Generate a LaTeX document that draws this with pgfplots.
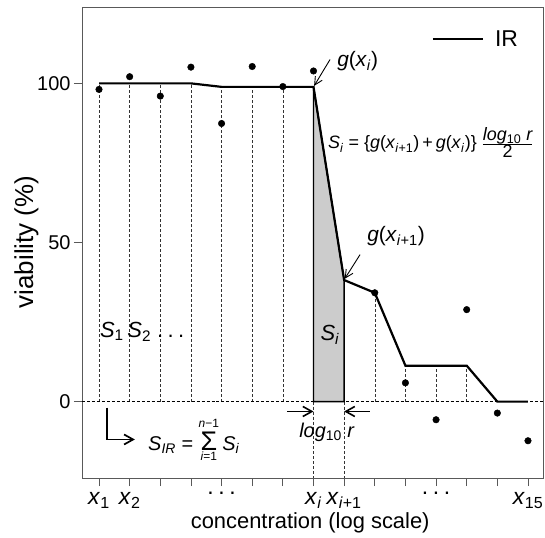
\documentclass[border=0pt]{standalone}
\usepackage{fontspec}
\setmainfont{Liberation Sans}
\usepackage{pgfplots}
\pgfplotsset{compat=1.18}
\usetikzlibrary{arrows.meta}
\newcommand{\sub}[1]{\textsubscript{#1}}
\newcommand{\cdts}{.\hspace{0.2em}.\hspace{0.2em}.}
\begin{document}
\begin{tikzpicture}
\begin{axis}[
  width=461bp, height=471bp, scale only axis,
  xmin=0.445, xmax=15.49, ymin=-24, ymax=124,
  axis line style={black!65, line width=0.8bp},
  xtick={1,...,15}, ytick={0,50,100},
  xtick pos=bottom, ytick pos=left, tick align=outside,
  major tick length=8bp,
  tick style={black!65, line width=0.8bp},
  /pgf/number format/assume math mode=true,
  yticklabel style={font=\fontsize{20}{22}\selectfont},
  xticklabels={\textit{x}\sub{1}, \textit{x}\sub{2}, {}, {}, {\raisebox{0.12em}{\cdts}}, {}, {}, \textit{x}\sub{\textit{i}}, \textit{x}\sub{\textit{i}+1}, {}, {}, {\raisebox{0.12em}{\cdts}}, {}, {}, \textit{x}\sub{15}},
  xticklabel style={font=\fontsize{23}{25}\selectfont, yshift=-3bp},
  xlabel={concentration (log scale)},
  xlabel style={at={(axis description cs:0.495,-0.108)}, anchor=base, font=\fontsize{22}{24}\selectfont},
  ylabel={viability (\%)},
  ylabel style={at={(axis description cs:-0.106,0.501)}, anchor=base, rotate=0, font=\fontsize{26}{28}\selectfont},
  legend style={draw=none, fill=none, at={(0.957,0.932)}, anchor=east, font=\fontsize{23}{25}\selectfont},
  legend image code/.code={\draw[line width=2.2bp] (0bp,0bp) -- (50bp,0bp);},
  clip=false,
]
% dashed verticals from 0 to IR value
\addplot[forget plot, ycomb, densely dashed, line width=0.5bp, black!80] coordinates {
(1,100)(2,100)(3,100)(4,100)(5,98.9)(6,98.9)(7,98.9)(10,34.2)(11,11.3)(12,11.3)(13,11.3)};
\addplot[forget plot, densely dashed, line width=0.5bp, black!80] coordinates {(8,0)(8,-24)};
\addplot[forget plot, densely dashed, line width=0.5bp, black!80] coordinates {(9,0)(9,-24)};
\addplot[forget plot, densely dashed, line width=0.6bp, black] coordinates {(0.445,0)(15.49,0)};
% shaded trapezoid
\addplot[forget plot, fill=black!20, draw=black, line width=1.4bp] coordinates {(8,0)(8,98.9)(9,38.2)(9,0)} -- cycle;
% IR line
\addplot[line width=2.2bp, black, mark=none] coordinates {
(1,100)(4,100)(5,98.9)(8,98.9)(9,38.2)(10,34.2)(11,11.3)(13,11.3)(14,0)(15,0)};
\addlegendentry{\hspace{9bp}IR}
% observed points
\addplot[forget plot, only marks, mark=*, mark size=3.3bp, black] coordinates {
(1,98.1)(2,102.1)(3,96.0)(4,105.1)(5,87.4)(6,105.3)(7,99.0)(8,103.9)
(10,34.2)(11,5.9)(12,-5.7)(13,28.9)(14,-3.6)(15,-12.3)};
% annotations
\node[anchor=west, font=\fontsize{21}{23}\selectfont, inner sep=0pt] at (axis cs:8.77,107) {\textit{g}(\textit{x}\sub{\textit{i}})};
\draw[line width=0.9bp, -{Straight Barb[length=8bp,width=8bp]}] (axis cs:8.54,107.5) -- (axis cs:8.02,99.2);
\node[anchor=west, font=\fontsize{21}{23}\selectfont, inner sep=0pt] at (axis cs:9.75,51.9) {\textit{g}(\textit{x}\sub{\textit{i}+1})};
\draw[line width=0.9bp, -{Straight Barb[length=8bp,width=8bp]}] (axis cs:9.52,46.2) -- (axis cs:9.02,38.6);
\node[anchor=west, font=\fontsize{18}{20}\selectfont, inner sep=0pt] at (axis cs:8.47,81.4)
  {\textit{S}\sub{\textit{i}} = \{\textit{g}(\textit{x}\sub{\textit{i}+1})\,+\,\textit{g}(\textit{x}\sub{\textit{i}})\} $\frac{\hbox{\itshape log\sub{\upshape 10} r}}{\hbox{2}}$};
\node[font=\fontsize{22}{24}\selectfont, inner sep=0pt] at (axis cs:8.54,21) {\textit{S}\sub{\textit{i}}};
\node[anchor=west, font=\fontsize{22}{24}\selectfont, inner sep=0pt] at (axis cs:1.03,22) {\textit{S}\sub{1}\,\textit{S}\sub{2} \cdts};
\draw[line width=1.6bp, -{Straight Barb[length=9bp,width=10bp]}] (axis cs:7.14,-3.1) -- (axis cs:8,-3.1);
\draw[line width=1.6bp, -{Straight Barb[length=9bp,width=10bp]}] (axis cs:9.84,-3.1) -- (axis cs:9,-3.1);
\node[font=\fontsize{20}{22}\selectfont, inner sep=0pt] at (axis cs:8.44,-9.7) {\textit{log}\sub{10} \textit{r}};
\draw[line width=1.7bp, -{Straight Barb[length=9bp,width=10bp]}] (axis cs:1.26,-1.9) -- (axis cs:1.26,-11.9) -- (axis cs:2.17,-11.9);
\node[anchor=west, font=\fontsize{20}{22}\selectfont, inner sep=0pt] at (axis cs:2.6,-12)
  {\textit{S}\sub{\textit{IR}} = $\mathop{\hbox{\fontsize{27}{27}\selectfont Σ}}\limits_{\raisebox{-4bp}{\fontsize{12}{12}\selectfont\itshape i\upshape =1}}^{\raisebox{2bp}{\fontsize{12}{12}\selectfont\itshape n\upshape −1}}$\,\textit{S}\sub{\textit{i}}};
\end{axis}
\pgfresetboundingbox
\path (current axis.south west) ++(-82bp,-60bp) rectangle ++(545bp,538bp);
\end{tikzpicture}
\end{document}
